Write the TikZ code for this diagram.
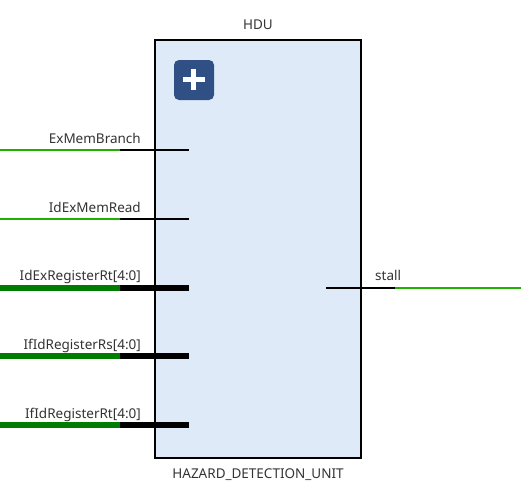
\documentclass[tikz,border=0pt]{standalone}
\usepackage{fontspec}
\setmainfont{Noto Sans}
\usepackage{xcolor}
\usetikzlibrary{positioning}
\definecolor{blockfill}{HTML}{DFEAF9}
\definecolor{plusfill}{HTML}{2F4F85}
\definecolor{netgreen}{HTML}{1FB000}
\definecolor{busgreen}{HTML}{007C00}
\tikzset{
  block/.style={draw=black,line width=2pt,fill=blockfill,minimum width=205.5pt,minimum height=418pt,inner sep=0pt,outer sep=0pt,anchor=north west},
  plusbox/.style={fill=plusfill,rounded corners=5pt,minimum size=40pt,inner sep=0pt},
  pinlabel/.style={inner sep=0pt,font=\fontsize{13.5pt}{16pt}\selectfont,text=black!80,anchor=base east},
  outlabel/.style={inner sep=0pt,font=\fontsize{13.5pt}{16pt}\selectfont,text=black!80,anchor=base west},
  titlelabel/.style={inner sep=0pt,font=\fontsize{13.5pt}{16pt}\selectfont,text=black!80,anchor=base},
  wire/.style={line width=2pt,draw=black},
  net/.style={line width=2pt,draw=netgreen},
  buswire/.style={line width=6pt,draw=black},
  busnet/.style={line width=6pt,draw=busgreen},
  plusbar/.style={draw=white,line width=5pt}
}
\begin{document}
\begin{tikzpicture}[x=1pt,y=-1pt]
      \useasboundingbox (0,0) rectangle (521,495);
      \node[block] (hdu) at (155,40) {};
      \node[titlelabel] (hdutitle) at (258,30) {HDU};
      \node[titlelabel] (hduname) at (258,478) {HAZARD\_DETECTION\_UNIT};
      \node[plusbox] (plus) at (194,80) {};
      \coordinate (plusw) at (183,79.5);
      \coordinate (pluse) at (204.5,79.5);
      \coordinate (plusn) at (193.7,69);
      \coordinate (pluss) at (193.7,90);
      \draw[plusbar] (plusw) -- (pluse);
      \draw[plusbar] (plusn) -- (pluss);
      % inputs
      \foreach \name/\y in {branch/150,memread/219}{
        \coordinate (\name0) at (0,\y);
        \coordinate (\name1) at (120,\y);
        \coordinate (\name2) at (189,\y);
        \draw[net] (\name0) -- (\name1);
        \draw[wire] (\name1) -- (\name2);
      }
      \foreach \name/\y in {rt/288,rs/356,ifrt/425}{
        \coordinate (\name0) at (0,\y);
        \coordinate (\name1) at (120,\y);
        \coordinate (\name2) at (189,\y);
        \draw[busnet] (\name0) -- (\name1);
        \draw[buswire] (\name1) -- (\name2);
      }
      \node[pinlabel] (branchlabel) at (141,143) {ExMemBranch};
      \node[pinlabel] (memreadlabel) at (141,212) {IdExMemRead};
      \node[pinlabel] (rtlabel) at (141,280) {IdExRegisterRt[4:0]};
      \node[pinlabel] (rslabel) at (141,349) {IfIdRegisterRs[4:0]};
      \node[pinlabel] (ifrtlabel) at (141,418) {IfIdRegisterRt[4:0]};
      % output
      \coordinate (stall0) at (326,288);
      \coordinate (stall1) at (395,288);
      \coordinate (stall2) at (521,288);
      \draw[wire] (stall0) -- (stall1);
      \draw[net] (stall1) -- (stall2);
      \node[outlabel] (stalllabel) at (375,280) {stall};
\end{tikzpicture}
\end{document}
